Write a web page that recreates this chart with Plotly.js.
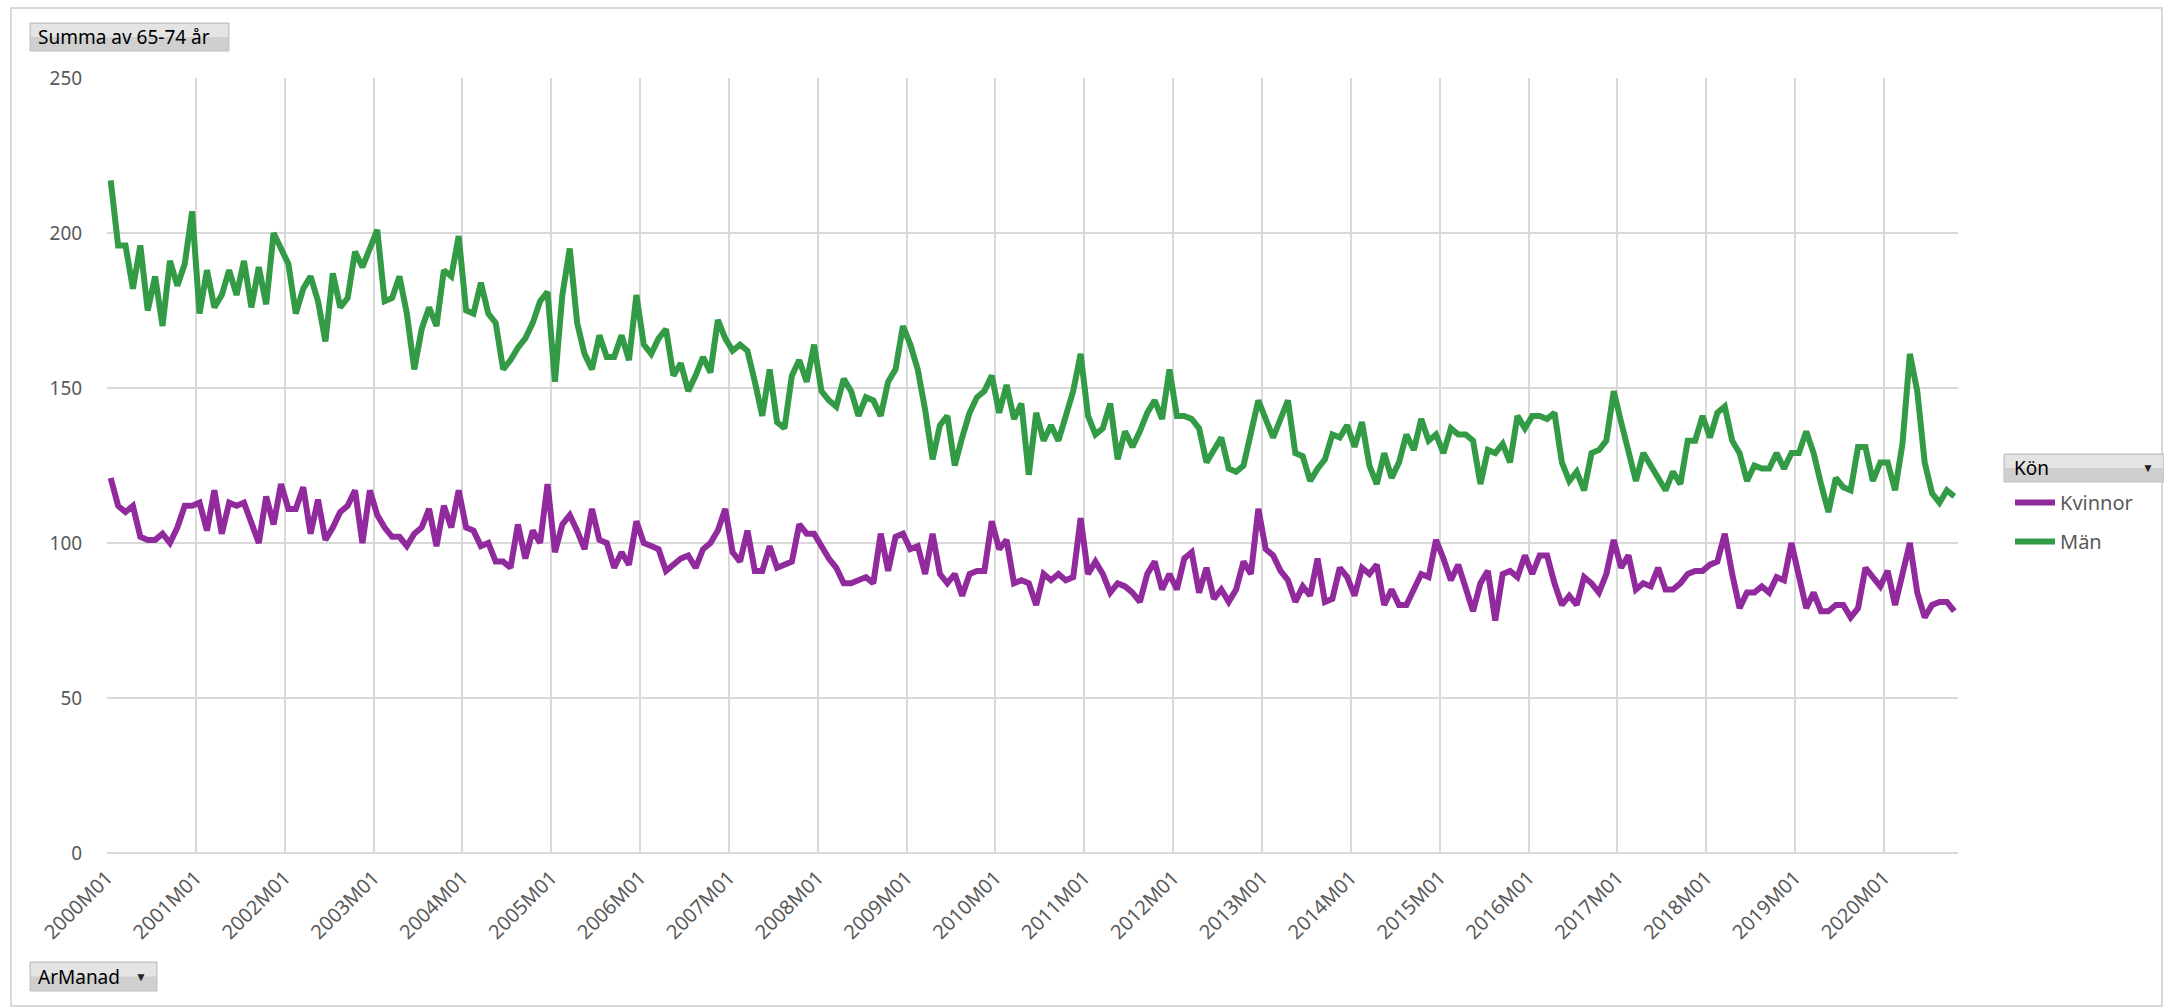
<!DOCTYPE html>
<html>
<head>
<meta charset="utf-8">
<script src="https://cdn.plot.ly/plotly-3.0.1.min.js"></script>
<style>
html,body{margin:0;padding:0;background:#fff;}
#chart{width:2164px;height:1008px;}
</style>
</head>
<body>
<div id="chart"></div>
<script>
// Monthly values 2000M01 .. 2020M10
const startYear = 2000;
const monthCount = 250;

const man = [
217,196,196,182,196,175,186,170,191,183,190,207,
174,188,176,180,188,180,191,176,189,177,200,195,
190,174,182,186,178,165,187,176,179,194,189,195,
201,178,179,186,174,156,169,176,170,188,186,199,
175,174,184,174,171,156,159,163,166,171,178,181,
152,180,195,171,161,156,167,160,160,167,159,180,
164,161,166,169,154,158,149,154,160,155,172,166,
162,164,162,152,141,156,139,137,154,159,152,164,
149,146,144,153,149,141,147,146,141,152,156,170,
164,156,143,127,138,141,125,134,142,147,149,154,
142,151,140,145,122,142,133,138,133,141,149,161,
141,135,137,145,127,136,131,136,142,146,140,156,
141,141,140,137,126,130,134,124,123,125,135,146,
140,134,140,146,129,128,120,124,127,135,134,138,
131,139,125,119,129,121,126,135,130,140,133,135,
129,137,135,135,133,119,130,129,132,126,141,137,
141,141,140,142,126,120,123,117,129,130,133,149,
139,129,120,129,125,121,117,123,119,133,133,141,
134,142,144,133,129,120,125,124,124,129,124,129,
129,136,129,119,110,121,118,117,131,131,120,126,
126,117,132,161,149,126,116,113,117,115
];

const kvinnor = [
121,112,110,112,102,101,101,103,100,105,112,112,
113,104,117,103,113,112,113,106,100,115,106,119,
111,111,118,103,114,101,105,110,112,117,100,117,
109,105,102,102,99,103,105,111,99,112,105,117,
105,104,99,100,94,94,92,106,95,104,100,119,
97,106,109,104,98,111,101,100,92,97,93,107,
100,99,98,91,93,95,96,92,98,100,104,111,
97,94,104,91,91,99,92,93,94,106,103,103,
99,95,92,87,87,88,89,87,103,91,102,103,
98,99,90,103,90,87,90,83,90,91,91,107,
98,101,87,88,87,80,90,88,90,88,89,108,
90,94,90,84,87,86,84,81,90,94,85,90,
85,95,97,84,92,82,85,81,85,94,90,111,
98,96,91,88,81,86,83,95,81,82,92,89,
83,92,90,93,80,85,80,80,85,90,89,101,
95,88,93,86,78,87,91,75,90,91,89,96,
90,96,96,87,80,83,80,89,87,84,90,101,
92,96,85,87,86,92,85,85,87,90,91,91,
93,94,103,90,79,84,84,86,84,89,88,100,
90,79,84,78,78,80,80,76,79,92,89,86,
91,80,90,100,84,76,80,81,81,78
];

const seriesNames = ["Kvinnor", "Män"];
const seriesColors = ["#912a9c", "#339a46"];
const yTicks = [0, 50, 100, 150, 200, 250];

// month labels
const monthLabels = [];
for (let i = 0; i < monthCount; i++) {
  const y = startYear + Math.floor(i / 12);
  const m = (i % 12) + 1;
  monthLabels.push(y + "M" + (m < 10 ? "0" + m : m));
}
const xIdx = monthLabels.map((_, i) => i);
const tickVals = [], tickText = [];
for (let i = 0; i < monthCount; i += 12) {
  tickVals.push(i - 0.5);
  tickText.push(monthLabels[i]);
}

// pixel -> paper helpers (plot area 107..1958 x, 78..853 y)
const L = 107, R = 1958, T = 78, B = 853;
const px = v => (v - L) / (R - L);
const py = v => (B - v) / (B - T);

const traces = [
  {x: xIdx, y: kvinnor, text: monthLabels, name: seriesNames[0], legendgroup: "k", type: "scatter", mode: "lines",
   line: {color: seriesColors[0], width: 6}, hovertemplate: "%{text}: %{y}<extra>Kvinnor</extra>"},
  {x: xIdx, y: man, text: monthLabels, name: seriesNames[1], legendgroup: "m", type: "scatter", mode: "lines",
   line: {color: seriesColors[1], width: 6}, hovertemplate: "%{text}: %{y}<extra>Män</extra>"}
];

const font = "Noto Sans, Open Sans, Liberation Sans, sans-serif";
function button(x0, y0, x1, y1) {
  return [
    {type: "rect", xref: "paper", yref: "paper", x0: px(x0), x1: px(x1), y0: py(y1), y1: py(y0),
     fillcolor: "#cfcfcf", line: {color: "#c0c0c0", width: 1}, layer: "below"},
    {type: "rect", xref: "paper", yref: "paper", x0: px(x0 + 1), x1: px(x1 - 1), y0: py((y0 + y1) / 2), y1: py(y0 + 1),
     fillcolor: "#e4e4e4", line: {width: 0}, layer: "below"}
  ];
}

const shapes = [
  {type: "rect", xref: "paper", yref: "paper", x0: px(11), x1: px(2162), y0: py(1006), y1: py(8),
   fillcolor: "rgba(0,0,0,0)", line: {color: "#d9d9d9", width: 2}, layer: "below"},
  ...button(30, 23, 229, 51),
  ...button(2004, 454, 2164, 482),
  ...button(30, 962, 157, 991)
];

const annotations = [
  {xref: "paper", yref: "paper", x: px(36), y: py(37), xanchor: "left", yanchor: "middle", showarrow: false,
   text: "Summa av 65-74 år", font: {family: font, size: 19, color: "#000"}},
  {xref: "paper", yref: "paper", x: px(2012), y: py(468), xanchor: "left", yanchor: "middle", showarrow: false,
   text: "Kön", font: {family: font, size: 19, color: "#000"}},
  {xref: "paper", yref: "paper", x: px(2148), y: py(468), xanchor: "center", yanchor: "middle", showarrow: false,
   text: "▼", font: {family: font, size: 12, color: "#222"}},
  {xref: "paper", yref: "paper", x: px(36), y: py(977), xanchor: "left", yanchor: "middle", showarrow: false,
   text: "ArManad", font: {family: font, size: 19, color: "#000"}},
  {xref: "paper", yref: "paper", x: px(141), y: py(977), xanchor: "center", yanchor: "middle", showarrow: false,
   text: "▼", font: {family: font, size: 12, color: "#222"}}
];

const layout = {
  width: 2164, height: 1008,
  margin: {l: L, r: 2164 - R, t: T, b: 1008 - B, pad: 0},
  paper_bgcolor: "#fff", plot_bgcolor: "#fff",
  font: {family: font, color: "#595959", size: 19},
  showlegend: true,
  legend: {x: px(2010), y: py(483), xanchor: "left", yanchor: "top", bgcolor: "rgba(0,0,0,0)",
           traceorder: "grouped", tracegroupgap: 10,
           font: {family: font, size: 20, color: "#595959"}, itemwidth: 40},
  xaxis: {
    type: "linear", range: [-0.5, monthCount - 0.5],
    tickmode: "array", tickvals: tickVals, ticktext: tickText, tickangle: -45,
    showgrid: true, gridcolor: "#d9d9d9", gridwidth: 2,
    zeroline: false, showline: false, ticks: "outside", ticklen: 4, tickcolor: "rgba(0,0,0,0)",
    tickfont: {family: font, size: 20, color: "#595959"}
  },
  yaxis: {
    range: [0, 250], tickmode: "array", tickvals: yTicks,
    showgrid: true, gridcolor: "#d9d9d9", gridwidth: 2,
    zeroline: true, zerolinecolor: "#d9d9d9", zerolinewidth: 2,
    showline: false, ticks: "outside", ticklen: 20, tickcolor: "rgba(0,0,0,0)",
    tickfont: {family: font, size: 19, color: "#595959"}
  },
  shapes: shapes,
  annotations: annotations
};

Plotly.newPlot("chart", traces, layout, {displayModeBar: false});
</script>
</body>
</html>
